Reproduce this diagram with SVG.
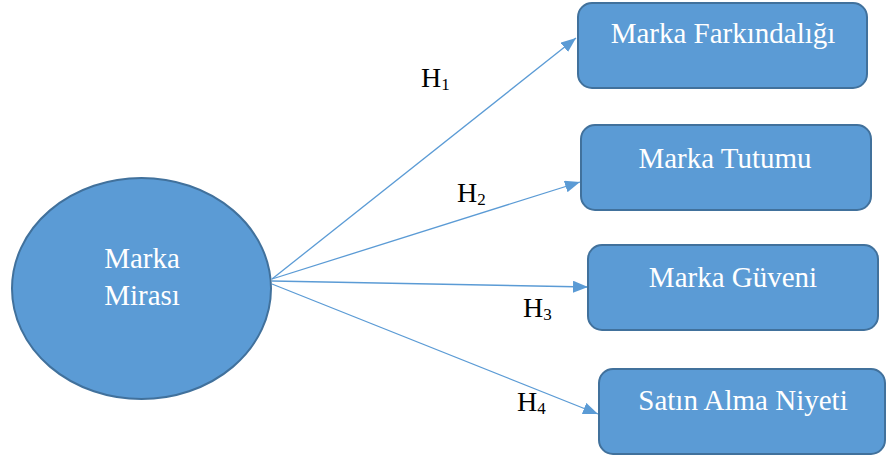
<svg xmlns="http://www.w3.org/2000/svg" width="886" height="460" viewBox="0 0 886 460">
  <style>
    .node { fill: #5B9BD5; stroke: #41719C; stroke-width: 2; }
    .label { font-family: "Liberation Serif", "Times New Roman", serif; font-size: 29px; fill: #FFFFFF; text-anchor: middle; }
    .edge { stroke: #5B9BD5; stroke-width: 1.3; fill: none; marker-end: url(#arrow); }
    .hyp { font-family: "Liberation Serif", "Times New Roman", serif; font-size: 28px; fill: #000000; }
    .sub { font-size: 17px; }
  </style>
  <defs>
    <marker id="arrow" viewBox="0 0 15 12" refX="15" refY="6" markerWidth="15" markerHeight="12" markerUnits="userSpaceOnUse" orient="auto">
      <path d="M0,0 L15,6 L0,12 Z" fill="#5B9BD5"/>
    </marker>
  </defs>

  <g id="connectors">
    <line class="edge" x1="272" y1="279" x2="576" y2="38"/>
    <line class="edge" x1="272" y1="279" x2="580" y2="182"/>
    <line class="edge" x1="272" y1="281" x2="588" y2="287"/>
    <line class="edge" x1="272" y1="284" x2="598" y2="414"/>
  </g>

  <g id="marka-mirasi">
    <ellipse class="node" cx="141.5" cy="288.5" rx="129.5" ry="110.5"/>
    <text class="label" x="142" y="268">Marka</text>
    <text class="label" x="142" y="305">Mirası</text>
  </g>

  <g id="marka-farkindaligi">
    <rect class="node" x="578" y="3" width="289" height="85" rx="14"/>
    <text class="label" x="723" y="43">Marka Farkındalığı</text>
  </g>

  <g id="marka-tutumu">
    <rect class="node" x="581" y="125" width="290" height="85" rx="14"/>
    <text class="label" x="725" y="168">Marka Tutumu</text>
  </g>

  <g id="marka-guveni">
    <rect class="node" x="588" y="245" width="290" height="85" rx="14"/>
    <text class="label" x="733" y="287">Marka Güveni</text>
  </g>

  <g id="satin-alma-niyeti">
    <rect class="node" x="599" y="369" width="286" height="85" rx="14"/>
    <text class="label" x="743" y="410">Satın Alma Niyeti</text>
  </g>

  <g id="hypotheses">
    <text class="hyp" x="421" y="87">H<tspan class="sub" dy="3">1</tspan></text>
    <text class="hyp" x="457" y="202">H<tspan class="sub" dy="3">2</tspan></text>
    <text class="hyp" x="523" y="317">H<tspan class="sub" dy="3">3</tspan></text>
    <text class="hyp" x="517" y="411">H<tspan class="sub" dy="3">4</tspan></text>
  </g>
</svg>
